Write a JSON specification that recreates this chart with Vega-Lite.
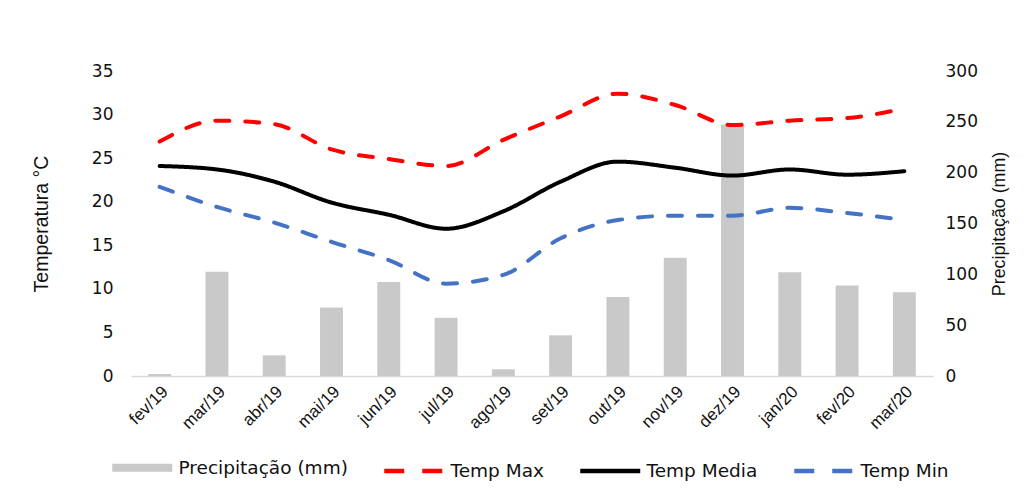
{
  "$schema": "https://vega.github.io/schema/vega-lite/v6.json",
  "autosize": "none",
  "width": 802,
  "height": 305,
  "padding": {"left": 131, "top": 71, "right": 93, "bottom": 117},
  "background": "white",
  "config": {
    "view": {"stroke": null},
    "font": "DejaVu Sans"
  },
  "data": {
    "values": [
      {"mes": "fev/19", "serie": "Precipitação (mm)", "valor": 2},
      {"mes": "mar/19", "serie": "Precipitação (mm)", "valor": 102.6},
      {"mes": "abr/19", "serie": "Precipitação (mm)", "valor": 20.3},
      {"mes": "mai/19", "serie": "Precipitação (mm)", "valor": 67.5},
      {"mes": "jun/19", "serie": "Precipitação (mm)", "valor": 92.4},
      {"mes": "jul/19", "serie": "Precipitação (mm)", "valor": 57.4},
      {"mes": "ago/19", "serie": "Precipitação (mm)", "valor": 6.6},
      {"mes": "set/19", "serie": "Precipitação (mm)", "valor": 40},
      {"mes": "out/19", "serie": "Precipitação (mm)", "valor": 77.7},
      {"mes": "nov/19", "serie": "Precipitação (mm)", "valor": 116.4},
      {"mes": "dez/19", "serie": "Precipitação (mm)", "valor": 247.5},
      {"mes": "jan/20", "serie": "Precipitação (mm)", "valor": 102},
      {"mes": "fev/20", "serie": "Precipitação (mm)", "valor": 88.9},
      {"mes": "mar/20", "serie": "Precipitação (mm)", "valor": 82.3},
      {"mes": "fev/19", "serie": "Temp Max", "valor": 26.9},
      {"mes": "mar/19", "serie": "Temp Max", "valor": 29.3},
      {"mes": "abr/19", "serie": "Temp Max", "valor": 28.9},
      {"mes": "mai/19", "serie": "Temp Max", "valor": 26.0},
      {"mes": "jun/19", "serie": "Temp Max", "valor": 24.9},
      {"mes": "jul/19", "serie": "Temp Max", "valor": 24.1},
      {"mes": "ago/19", "serie": "Temp Max", "valor": 27.1},
      {"mes": "set/19", "serie": "Temp Max", "valor": 29.8},
      {"mes": "out/19", "serie": "Temp Max", "valor": 32.4},
      {"mes": "nov/19", "serie": "Temp Max", "valor": 31.1},
      {"mes": "dez/19", "serie": "Temp Max", "valor": 28.8},
      {"mes": "jan/20", "serie": "Temp Max", "valor": 29.3},
      {"mes": "fev/20", "serie": "Temp Max", "valor": 29.6},
      {"mes": "mar/20", "serie": "Temp Max", "valor": 30.7},
      {"mes": "fev/19", "serie": "Temp Media", "valor": 24.1},
      {"mes": "mar/19", "serie": "Temp Media", "valor": 23.7},
      {"mes": "abr/19", "serie": "Temp Media", "valor": 22.3},
      {"mes": "mai/19", "serie": "Temp Media", "valor": 19.9},
      {"mes": "jun/19", "serie": "Temp Media", "valor": 18.5},
      {"mes": "jul/19", "serie": "Temp Media", "valor": 16.9},
      {"mes": "ago/19", "serie": "Temp Media", "valor": 18.9},
      {"mes": "set/19", "serie": "Temp Media", "valor": 22.3},
      {"mes": "out/19", "serie": "Temp Media", "valor": 24.6},
      {"mes": "nov/19", "serie": "Temp Media", "valor": 23.9},
      {"mes": "dez/19", "serie": "Temp Media", "valor": 23.0},
      {"mes": "jan/20", "serie": "Temp Media", "valor": 23.7},
      {"mes": "fev/20", "serie": "Temp Media", "valor": 23.1},
      {"mes": "mar/20", "serie": "Temp Media", "valor": 23.5},
      {"mes": "fev/19", "serie": "Temp Min", "valor": 21.7},
      {"mes": "mar/19", "serie": "Temp Min", "valor": 19.4},
      {"mes": "abr/19", "serie": "Temp Min", "valor": 17.6},
      {"mes": "mai/19", "serie": "Temp Min", "valor": 15.4},
      {"mes": "jun/19", "serie": "Temp Min", "valor": 13.3},
      {"mes": "jul/19", "serie": "Temp Min", "valor": 10.6},
      {"mes": "ago/19", "serie": "Temp Min", "valor": 11.6},
      {"mes": "set/19", "serie": "Temp Min", "valor": 15.8},
      {"mes": "out/19", "serie": "Temp Min", "valor": 17.9},
      {"mes": "nov/19", "serie": "Temp Min", "valor": 18.4},
      {"mes": "dez/19", "serie": "Temp Min", "valor": 18.4},
      {"mes": "jan/20", "serie": "Temp Min", "valor": 19.3},
      {"mes": "fev/20", "serie": "Temp Min", "valor": 18.7},
      {"mes": "mar/20", "serie": "Temp Min", "valor": 17.9}
    ]
  },
  "encoding": {
    "x": {
      "field": "mes",
      "type": "nominal",
      "sort": ["fev/19","mar/19","abr/19","mai/19","jun/19","jul/19","ago/19","set/19","out/19","nov/19","dez/19","jan/20","fev/20","mar/20"],
      "scale": {"paddingInner": 0.6, "paddingOuter": 0.3},
      "axis": {
        "title": null,
        "labelAngle": -45,
        "labelAlign": "right",
        "labelBaseline": "top",
        "labelFont": "Liberation Sans",
        "labelFontSize": 17,
        "labelColor": "#111111",
        "labelPadding": 7,
        "ticks": false,
        "domainColor": "#d9d9d9",
        "domainWidth": 1.5
      }
    },
    "color": {
      "field": "serie",
      "type": "nominal",
      "scale": {
        "domain": ["Precipitação (mm)", "Temp Max", "Temp Media", "Temp Min"],
        "range": ["#c9c9c9", "#ff0000", "#000000", "#4472c4"]
      },
      "legend": {
        "title": null,
        "orient": "none",
        "legendX": 2,
        "legendY": 387,
        "direction": "horizontal",
        "symbolType": "stroke",
        "symbolSize": 3600,
        "symbolStrokeWidth": 4,
        "labelFont": "DejaVu Sans",
        "labelFontSize": 18.5,
        "labelColor": "#111111",
        "labelOffset": 27,
        "labelLimit": 400,
        "columnPadding": 27,
        "encode": {
          "symbols": {
            "update": {
              "stroke": {"signal": "scale('color', datum.value)"},
              "fill": {"value": "transparent"},
              "strokeWidth": {"signal": "datum.value === 'Precipitação (mm)' ? 8 : 4.5"},
              "strokeDash": {"signal": "(datum.value === 'Temp Max' || datum.value === 'Temp Min') ? [20, 18] : [1, 0]"}
            }
          }
        }
      }
    }
  },
  "layer": [
    {
      "transform": [{"filter": "datum.serie === 'Precipitação (mm)'"}],
      "mark": {"type": "bar"},
      "encoding": {
        "y": {
          "field": "valor",
          "type": "quantitative",
          "scale": {"domain": [0, 300], "nice": false},
          "axis": {
            "orient": "right",
            "title": "Precipitação (mm)",
            "titleAngle": -90,
            "titleFont": "Liberation Sans",
            "titleFontSize": 17.8,
            "titleFontWeight": "normal",
            "titleColor": "#111111",
            "titlePadding": 31,
            "values": [0, 50, 100, 150, 200, 250, 300],
            "labelFont": "DejaVu Sans",
            "labelFontSize": 17,
            "labelColor": "#111111",
            "labelPadding": 12,
            "ticks": false,
            "domain": false,
            "grid": false
          }
        }
      }
    },
    {
      "transform": [{"filter": "datum.serie !== 'Precipitação (mm)'"}],
      "mark": {"type": "line", "interpolate": "monotone", "strokeWidth": 4, "strokeCap": "round"},
      "encoding": {
        "y": {
          "field": "valor",
          "type": "quantitative",
          "scale": {"domain": [0, 35], "nice": false},
          "axis": {
            "orient": "left",
            "title": "Temperatura °C",
            "titleFont": "Liberation Sans",
            "titleFontSize": 19.5,
            "titleFontWeight": "normal",
            "titleColor": "#111111",
            "titlePadding": 40,
            "values": [0, 5, 10, 15, 20, 25, 30, 35],
            "labelFont": "DejaVu Sans",
            "labelFontSize": 17,
            "labelColor": "#111111",
            "labelPadding": 18,
            "ticks": false,
            "domain": false,
            "grid": false
          }
        },
        "strokeDash": {
          "field": "serie",
          "type": "nominal",
          "scale": {
            "domain": ["Temp Max", "Temp Media", "Temp Min"],
            "range": [[14, 16], [1, 0], [14, 16]]
          },
          "legend": null
        },
        "strokeWidth": {
          "field": "serie",
          "type": "nominal",
          "scale": {
            "domain": ["Temp Max", "Temp Media", "Temp Min"],
            "range": [4, 3.5, 4]
          },
          "legend": null
        }
      }
    }
  ],
  "resolve": {"scale": {"y": "independent"}}
}
